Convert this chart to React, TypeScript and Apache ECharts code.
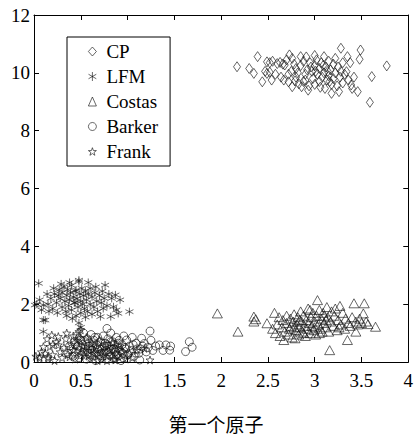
import React, { useEffect, useRef } from "react";
import * as echarts from "echarts";

const seriesNames = ["CP", "LFM", "Costas", "Barker", "Frank"];
const xTicks = { min: 0, max: 4, interval: 0.5 };
const yTicks = { min: 0, max: 12, interval: 2 };
const xAxisTitle = "第一个原子";

const cpData = [
  [2.17,10.21],[2.30,10.15],[2.35,9.98],[2.39,10.56],[2.44,9.69],[2.49,10.38],[2.49,9.98],[2.47,10.05],[2.54,9.75],[2.52,10.02],
  [2.60,10.32],[2.63,10.36],[2.66,10.30],[2.68,10.27],[2.73,10.62],[2.70,10.45],[2.76,10.50],[2.78,10.30],[2.80,10.15],[2.75,10.05],
  [2.72,9.95],[2.67,9.75],[2.72,9.69],[2.76,9.52],[2.80,9.85],[2.83,9.62],[2.85,10.56],[2.86,9.52],[2.88,9.70],[2.90,9.75],
  [2.93,9.40],[2.92,10.10],[2.95,10.35],[2.97,10.05],[2.98,9.80],[3.00,9.60],[3.00,10.25],[3.02,10.45],[3.03,9.95],[3.05,10.15],
  [3.05,9.70],[3.07,10.35],[3.08,9.85],[3.10,10.56],[3.10,10.00],[3.11,9.46],[3.12,10.20],[3.13,9.75],[3.15,10.40],[3.15,9.90],
  [3.17,10.10],[3.18,9.29],[3.18,9.60],[3.20,10.30],[3.20,9.80],[3.22,10.50],[3.22,10.00],[3.24,9.55],[3.25,10.20],[3.26,9.35],
  [3.27,9.85],[3.28,10.85],[3.28,10.05],[3.30,10.35],[3.30,9.65],[3.32,9.95],[3.34,10.04],[3.35,10.56],[3.36,9.75],[3.38,10.35],
  [3.39,9.58],[3.40,9.46],[3.42,9.85],[3.46,9.35],[3.48,10.47],[3.49,10.79],[3.59,8.98],[3.61,9.87],[3.77,10.24],[2.85,10.25],
  [2.88,10.40],[2.90,9.95],[2.94,9.55],[2.96,10.20],[3.01,10.05],[3.06,9.50],[3.09,10.25],[3.14,10.05],[3.16,9.70],[2.82,10.00],
  [2.79,9.72],[2.64,9.85],[2.58,9.95],[2.55,10.40],[2.52,10.35],[2.91,10.55],[3.00,10.60]
];

const lfmData = [
  [0.01,1.97],[0.05,2.72],[0.10,1.97],[0.12,1.45],[0.10,1.05],[0.10,1.45],[0.03,2.00],[0.15,2.00],[0.18,2.20],[0.20,1.85],
  [0.22,2.35],[0.24,2.05],[0.25,1.70],[0.27,2.50],[0.28,2.20],[0.30,1.90],[0.30,2.40],[0.32,2.60],[0.33,2.10],[0.34,1.75],
  [0.35,2.30],[0.36,2.50],[0.37,1.95],[0.38,2.15],[0.39,2.40],[0.40,2.65],[0.40,1.80],[0.42,2.25],[0.43,2.05],[0.44,2.45],
  [0.45,2.49],[0.45,1.60],[0.46,2.20],[0.47,1.90],[0.48,2.78],[0.48,2.83],[0.49,2.35],[0.50,2.10],[0.50,1.70],[0.51,2.55],
  [0.52,2.00],[0.53,2.30],[0.54,1.85],[0.55,2.45],[0.56,2.15],[0.57,1.75],[0.58,2.35],[0.60,2.00],[0.60,2.55],[0.62,1.65],
  [0.62,2.25],[0.64,1.90],[0.65,2.40],[0.67,2.10],[0.68,1.75],[0.70,2.30],[0.71,1.57],[0.72,2.05],[0.73,2.45],[0.75,2.20],
  [0.76,2.66],[0.78,1.95],[0.80,2.35],[0.82,1.57],[0.83,2.20],[0.85,1.91],[0.87,2.32],[0.88,1.80],[0.90,1.68],[0.92,2.15],
  [1.02,1.74],[0.26,2.30],[0.21,2.55],[0.16,1.75],[0.14,2.35],[0.35,1.60],[0.41,1.50],[0.55,1.55],[0.48,1.35],[0.50,1.20],
  [0.06,2.15],[0.08,1.80],[0.29,2.70],[0.38,2.75],[0.44,2.05],[0.58,2.75],[0.66,2.60],[0.74,1.85]
];

const costasData = [
  [1.96,1.68],[2.18,1.05],[2.35,1.57],[2.35,1.40],[2.37,1.48],[2.49,1.34],[2.57,1.70],[2.55,1.15],[2.58,1.00],[2.60,1.30],
  [2.62,1.55],[2.63,0.90],[2.65,1.20],[2.66,1.45],[2.67,0.76],[2.68,1.05],[2.70,1.35],[2.70,1.60],[2.72,0.95],[2.73,1.15],
  [2.74,1.50],[2.75,1.25],[2.76,0.85],[2.77,1.40],[2.78,1.65],[2.79,0.82],[2.80,1.10],[2.81,1.30],[2.82,1.55],[2.83,0.95],
  [2.84,1.20],[2.85,1.75],[2.86,1.40],[2.87,1.05],[2.88,1.60],[2.89,1.25],[2.90,0.90],[2.91,1.45],[2.92,1.15],[2.93,1.85],
  [2.94,1.35],[2.95,1.00],[2.96,1.55],[2.97,1.25],[2.98,1.70],[2.99,1.10],[3.00,1.40],[3.01,0.95],[3.02,1.60],[3.03,2.14],
  [3.04,1.30],[3.05,1.80],[3.06,1.15],[3.07,1.50],[3.08,1.05],[3.09,1.70],[3.10,1.35],[3.12,1.20],[3.13,1.90],[3.14,1.55],
  [3.15,1.05],[3.16,0.41],[3.17,1.40],[3.18,1.75],[3.20,1.25],[3.21,1.60],[3.22,1.85],[3.24,1.10],[3.25,1.45],[3.27,1.94],
  [3.28,1.30],[3.30,1.70],[3.32,1.15],[3.33,1.50],[3.35,0.76],[3.36,1.35],[3.38,1.25],[3.40,1.55],[3.42,2.03],[3.44,1.05],
  [3.44,1.40],[3.46,1.30],[3.48,1.50],[3.50,1.35],[3.52,1.68],[3.53,2.03],[3.55,1.40],[3.57,1.31],[3.65,1.22],[2.88,1.00],
  [2.95,1.80],[3.00,1.20],[3.05,1.00],[3.10,1.60],[2.78,1.20],[2.84,1.45],[3.26,1.20],[3.12,1.45]
];

const barkerData = [
  [0.40,0.45],[0.42,0.20],[0.43,0.70],[0.45,0.35],[0.46,0.90],[0.47,0.55],[0.48,0.15],[0.49,0.40],[0.50,0.75],[0.51,0.25],
  [0.52,0.60],[0.53,1.00],[0.54,0.35],[0.55,0.50],[0.56,0.10],[0.57,0.80],[0.58,0.30],[0.59,0.65],[0.60,0.45],[0.61,0.95],
  [0.62,0.20],[0.63,0.55],[0.64,0.75],[0.65,0.35],[0.66,0.05],[0.67,0.60],[0.68,0.85],[0.69,0.25],[0.70,0.45],[0.71,0.70],
  [0.72,0.15],[0.73,0.50],[0.74,0.90],[0.75,0.30],[0.76,0.65],[0.77,0.40],[0.78,1.16],[0.78,0.10],[0.79,0.80],[0.80,0.55],
  [0.81,0.25],[0.82,1.00],[0.83,0.45],[0.84,0.70],[0.85,0.15],[0.86,0.60],[0.87,0.35],[0.88,0.85],[0.89,0.50],[0.90,0.20],
  [0.91,0.75],[0.92,0.40],[0.93,0.05],[0.94,0.60],[0.95,0.30],[0.96,0.90],[0.97,0.50],[0.99,0.76],[1.00,0.25],[1.02,0.55],
  [1.04,0.40],[1.05,0.85],[1.07,0.20],[1.09,0.65],[1.10,0.45],[1.12,0.30],[1.13,0.07],[1.15,0.82],[1.16,0.55],[1.18,0.64],
  [1.20,0.35],[1.22,0.50],[1.24,1.07],[1.25,0.75],[1.27,0.40],[1.30,0.55],[1.34,0.59],[1.38,0.40],[1.41,0.59],[1.45,0.41],
  [1.46,0.55],[1.62,0.36],[1.66,0.70],[1.69,0.51],[0.55,0.70],[0.60,0.25],[0.65,0.85],[0.70,0.10],[0.75,0.55],[0.80,0.35],
  [0.85,0.45],[0.90,0.65],[0.95,0.15],[0.62,0.40],[0.72,0.30],[0.82,0.70],[0.58,0.55],[0.68,0.45],[0.78,0.60],[0.88,0.25],
  [0.98,0.45],[1.06,0.60],[1.14,0.45],[0.44,0.60],[0.50,0.50],[0.36,0.30],[0.38,0.55]
];

const frankData = [
  [0.02,0.20],[0.06,0.13],[0.06,0.18],[0.10,0.53],[0.12,0.30],[0.15,0.13],[0.15,0.18],[0.17,0.53],[0.19,0.93],[0.20,0.25],
  [0.22,0.05],[0.24,0.70],[0.26,0.59],[0.26,0.88],[0.28,0.35],[0.30,0.15],[0.32,0.50],[0.34,0.80],[0.36,0.25],[0.38,0.18],
  [0.40,0.60],[0.42,0.40],[0.44,0.10],[0.46,0.75],[0.48,0.82],[0.48,1.05],[0.50,1.11],[0.50,0.30],[0.52,0.55],[0.54,0.20],
  [0.56,0.85],[0.58,0.40],[0.60,0.10],[0.62,0.65],[0.64,0.30],[0.66,0.50],[0.68,0.05],[0.70,0.75],[0.72,0.35],[0.74,0.20],
  [0.76,0.55],[0.78,0.05],[0.80,0.40],[0.82,0.25],[0.84,0.65],[0.86,0.10],[0.87,0.07],[0.88,0.45],[0.90,0.20],[0.92,0.55],
  [0.95,0.35],[0.98,0.10],[1.02,0.30],[1.05,0.15],[1.10,0.40],[1.18,0.47],[1.24,0.07],[0.08,0.35],[0.35,1.00],[0.20,0.60],
  [0.14,0.80],[0.42,0.90]
];

const ASTERISK = "path://M5,0L5,10M0.67,2.5L9.33,7.5M0.67,7.5L9.33,2.5";
const STAR =
  "path://M5,0L6.176,3.382L9.755,3.455L6.902,5.618L7.939,9.045L5,7L2.061,9.045L3.098,5.618L0.245,3.455L3.824,3.382Z";

const SERIF = '"Liberation Serif", "Times New Roman", serif';

export default function App() {
  const ref = useRef<HTMLDivElement>(null);
  useEffect(() => {
    if (!ref.current) return;
    const chart = echarts.init(ref.current, null, { renderer: "svg" });
    const itemStyle = { color: "rgba(0,0,0,0)", borderColor: "#111", borderWidth: 0.8 };
    const mk = (name: string, data: number[][], symbol: string, size: any) => ({
      name,
      type: "scatter",
      data,
      symbol,
      symbolSize: size,
      itemStyle,
      emphasis: { disabled: true },
    });
    const axisCommon = {
      type: "value",
      axisLine: { show: true, onZero: false, lineStyle: { color: "#000", width: 1 } },
      axisTick: { show: true, inside: true, length: 5, lineStyle: { color: "#000" } },
      splitLine: { show: false },
    };
    chart.setOption({
      animation: false,
      backgroundColor: "#fff",
      grid: { left: 34, right: 1, top: 15, bottom: 75, containLabel: false },
      legend: {
        orient: "vertical",
        left: 67,
        top: 37,
        data: seriesNames,
        itemWidth: 8,
        itemHeight: 9,
        itemGap: 6,
        padding: [5, 12, 5, 21],
        borderColor: "#000",
        borderWidth: 1,
        borderRadius: 0,
        backgroundColor: "#fff",
        selectedMode: false,
        itemStyle: { color: "rgba(0,0,0,0)", borderColor: "#111", borderWidth: 0.8 },
        textStyle: {
          fontFamily: SERIF,
          fontSize: 19,
          color: "#000",
          lineHeight: 19,
          padding: [0, 0, 0, 5],
        },
      },
      xAxis: [
        {
          ...axisCommon,
          position: "bottom",
          ...xTicks,
          axisLabel: { color: "#000", fontFamily: SERIF, fontSize: 19, margin: 9 },
        },
        {
          ...axisCommon,
          position: "top",
          ...xTicks,
          axisLabel: { show: false },
        },
      ],
      yAxis: [
        {
          ...axisCommon,
          position: "left",
          ...yTicks,
          axisLabel: { color: "#000", fontFamily: SERIF, fontSize: 19, margin: 4 },
        },
        {
          ...axisCommon,
          position: "right",
          ...yTicks,
          axisLabel: { show: false },
        },
      ],
      graphic: [
        {
          type: "text",
          x: 216,
          y: 423,
          style: {
            text: xAxisTitle,
            textAlign: "center",
            textVerticalAlign: "middle",
            font: '19px "Noto Sans CJK SC"',
            fill: "#000",
          },
        },
      ],
      series: [
        mk(seriesNames[0], cpData, "diamond", [7, 10]),
        mk(seriesNames[1], lfmData, ASTERISK, 8),
        mk(seriesNames[2], costasData, "triangle", [10, 9]),
        mk(seriesNames[3], barkerData, "circle", 8),
        mk(seriesNames[4], frankData, STAR, 8),
      ],
    });
    return () => chart.dispose();
  }, []);
  return <div ref={ref} style={{ width: 416, height: 437, position: "absolute", left: 0, top: 0 }} />;
}
